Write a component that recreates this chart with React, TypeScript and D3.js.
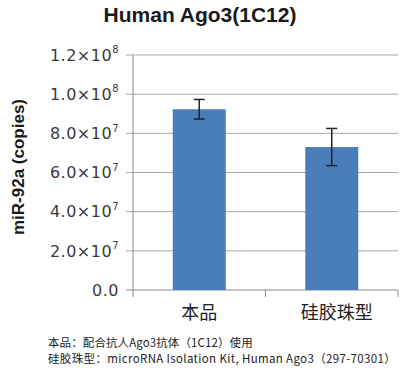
import React from "react";
import * as d3 from "d3";

const categories = ["本品", "硅胶珠型"];
const values = [9.23e7, 7.3e7];
const errors = [0.5e7, 0.95e7];
const yTicks = [0, 2e7, 4e7, 6e7, 8e7, 1e8, 1.2e8];
const title = "Human Ago3(1C12)";
const yTitle = "miR-92a (copies)";
const notes = [
  "本品：配合抗人Ago3抗体（1C12）使用",
  "硅胶珠型：microRNA Isolation Kit, Human Ago3（297-70301）",
];

const W = 412;
const H = 378;
const left = 133;
const right = 398;
const top = 55;
const bottom = 290;

function tickParts(v: number): [string, string] {
  if (v === 0) return ["0.0", ""];
  const e = Math.floor(Math.log10(v) + 1e-9);
  const m = v / Math.pow(10, e);
  return [m.toFixed(1) + "×10", String(e)];
}

export default function App() {
  const y = d3.scaleLinear().domain([0, 1.2e8]).range([bottom, top]);
  const x = d3.scaleBand<string>().domain(categories).range([left, right]).paddingInner(0).paddingOuter(0);
  const bw = x.bandwidth() * 0.4;
  const blue = "#4a7ebb";
  const grid = "#a8a8a8";
  const axis = "#8c8c8c";
  const edges = [left, ...categories.map((c) => (x(c) as number) + x.bandwidth())];

  return (
    <svg width={W} height={H} style={{ position: "absolute", left: 0, top: 0, background: "#fff" }}>
      <text x={200} y={22} textAnchor="middle" fontFamily="Liberation Sans, Arial, sans-serif" fontWeight="bold" fontSize={21} fill="#1a1a1a">
        {title}
      </text>
      {yTicks.map((t) => (
        <line key={"g" + t} x1={left - 7} x2={right} y1={y(t)} y2={y(t)} stroke={t === 0 ? axis : grid} strokeWidth={1} />
      ))}
      <line x1={left} x2={left} y1={top} y2={bottom + 7} stroke={axis} strokeWidth={1} />
      {edges.slice(1).map((e, i) => (
        <line key={"e" + i} x1={e} x2={e} y1={bottom} y2={bottom + 7} stroke={axis} strokeWidth={1} />
      ))}
      {yTicks.map((t) => {
        const [a, b] = tickParts(t);
        return (
          <text key={"t" + t} x={119} y={y(t)} dy="0.36em" textAnchor="end" fontFamily="DejaVu Sans, sans-serif" fontSize={16} letterSpacing={0.5} fill="#3a3a3a">
            {a}
            {b && (
              <tspan fontSize={10} dy="-0.75em">
                {b}
              </tspan>
            )}
          </text>
        );
      })}
      <text transform={`translate(24,167) rotate(-90)`} textAnchor="middle" fontFamily="Liberation Sans, Arial, sans-serif" fontWeight="bold" fontSize={17} fill="#1a1a1a">
        {yTitle}
      </text>
      {categories.map((c, i) => {
        const cx = (x(c) as number) + x.bandwidth() / 2;
        return (
          <g key={c}>
            <rect x={cx - bw / 2} y={y(values[i])} width={bw} height={bottom - y(values[i])} fill={blue} />
            <line x1={cx} x2={cx} y1={y(values[i] + errors[i])} y2={y(values[i] - errors[i])} stroke="#222" strokeWidth={1.5} />
            <line x1={cx - 5.5} x2={cx + 5.5} y1={y(values[i] + errors[i])} y2={y(values[i] + errors[i])} stroke="#222" strokeWidth={1.5} />
            <line x1={cx - 5.5} x2={cx + 5.5} y1={y(values[i] - errors[i])} y2={y(values[i] - errors[i])} stroke="#222" strokeWidth={1.5} />
            <text x={cx + (i === 1 ? 5 : 0)} y={319} textAnchor="middle" fontFamily="Noto Sans CJK SC, sans-serif" fontSize={18} fill="#222">
              {c}
            </text>
          </g>
        );
      })}
      {notes.map((n, i) => (
        <text key={"n" + i} x={48} y={346.5 + i * 16.5} fontFamily="Noto Sans CJK SC, sans-serif" fontSize={11.5} letterSpacing={i === 1 ? 0.35 : 0.1} fill="#222">
          {n}
        </text>
      ))}
    </svg>
  );
}
